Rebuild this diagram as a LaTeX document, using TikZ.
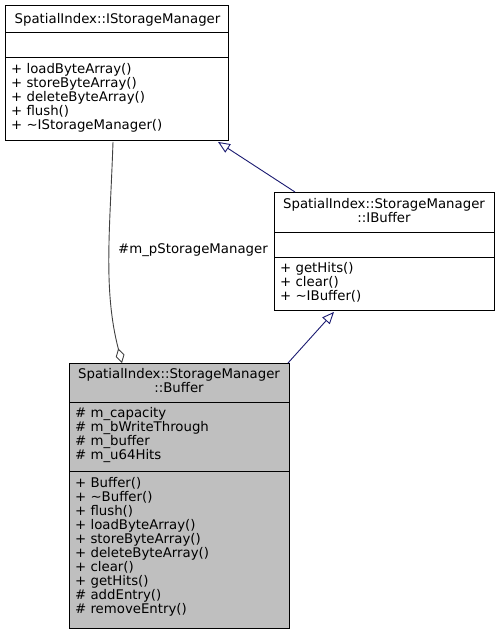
\documentclass[tikz,border=0pt]{standalone}
\usepackage{fontspec}
\setmainfont{DejaVu Sans}
\usetikzlibrary{arrows.meta,calc}
\definecolor{edgeblue}{HTML}{191970}
\definecolor{edgegray}{HTML}{404040}
\definecolor{boxfill}{HTML}{BFBFBF}
\begin{document}
\begin{tikzpicture}[x=1pt,y=-1pt,
  font=\fontsize{13.3}{14}\selectfont,
  box/.style={draw=black, line width=0.9pt, anchor=north west, inner sep=0pt},
  sep/.style={draw=black, line width=0.9pt},
  txt/.style={anchor=base west, inner sep=0pt, text height=9.6pt, text depth=2.4pt},
  ttl/.style={anchor=base, inner sep=0pt, text height=9.6pt, text depth=2.4pt},
  gen/.style={draw=edgeblue, line width=0.9pt, -{Triangle[open, length=12pt, width=10pt]}},
  agg/.style={draw=edgegray, line width=0.9pt, -{Diamond[open, length=15pt, width=9pt]}}]
\useasboundingbox (0,0) rectangle (499,635);

% IStorageManager
\node[box, minimum width=223pt, minimum height=135pt, fill=white] (ism) at (5,5) {};
\draw[sep] (5,32) -- (228,32);
\draw[sep] (5,57) -- (228,57);
\node[ttl] (ismT) at (117.5,23) {SpatialIndex::IStorageManager};
\foreach \t [count=\i] in {loadByteArray(),storeByteArray(),deleteByteArray(),flush(),\textasciitilde IStorageManager()}
  \node[txt] (ismM\i) at (11,{73+14*(\i-1)}) {+ \t};

% IBuffer
\node[box, minimum width=220pt, minimum height=118pt, fill=white] (ibuf) at (274,192) {};
\draw[sep] (274,232) -- (494,232);
\draw[sep] (274,257) -- (494,257);
\node[ttl] (ibufT1) at (384,208) {SpatialIndex::StorageManager};
\node[ttl] (ibufT2) at (384,222) {::IBuffer};
\foreach \t [count=\i] in {getHits(),clear(),\textasciitilde IBuffer()}
  \node[txt] (ibufM\i) at (280,{272+14*(\i-1)}) {+ \t};

% Buffer
\node[box, minimum width=220pt, minimum height=265pt, fill=boxfill] (buf) at (69,363) {};
\draw[sep] (69,402) -- (289,402);
\draw[sep] (69,471) -- (289,471);
\node[ttl] (bufT1) at (179,378) {SpatialIndex::StorageManager};
\node[ttl] (bufT2) at (179,392) {::Buffer};
\foreach \t [count=\i] in {m\_capacity,m\_bWriteThrough,m\_buffer,m\_u64Hits}
  \node[txt] (bufA\i) at (75,{417+14.2*(\i-1)}) {\# \t};
\foreach \p/\t [count=\i] in {+/Buffer(),+/\textasciitilde Buffer(),+/flush(),+/loadByteArray(),+/storeByteArray(),+/deleteByteArray(),+/clear(),+/getHits(),\#/addEntry(),\#/removeEntry()}
  \node[txt] (bufM\i) at (75,{487+14.1*(\i-1)}) {\p{} \t};

% edges
\draw[gen] ($(ibuf.north west)+(21,0)$) -- ($(ism.south west)+(213,1)$);
\draw[gen] ($(buf.north west)+(219,0)$) -- ($(ibuf.south west)+(60,1)$);
\draw[agg] ($(ism.south west)+(108,1)$) .. controls (110,230) and (103,290) .. ($(buf.north west)+(53,0)$);
\node[anchor=base west, inner sep=0pt] (lbl) at (118,253) {\#m\_pStorageManager};
\end{tikzpicture}
\end{document}
